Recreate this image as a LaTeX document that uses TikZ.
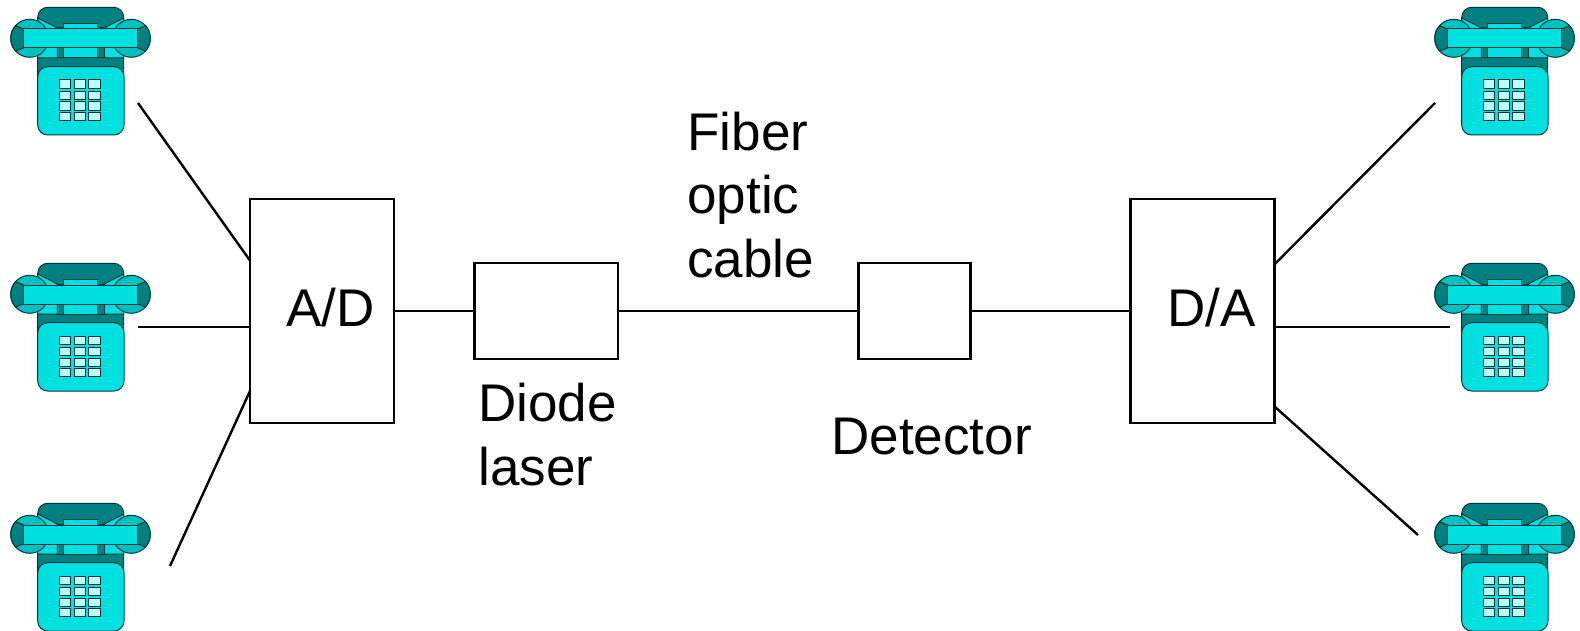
\documentclass[tikz,border=0pt]{standalone}
\usepackage{xcolor}
\usepackage{fontspec}
\setmainfont{Liberation Sans}
\usepackage{tikz}
\definecolor{teldark}{HTML}{008080}
\definecolor{telmid}{HTML}{00C0C0}
\definecolor{telcyan}{HTML}{00E0E0}
\definecolor{telkey}{HTML}{C0FFFF}
\definecolor{telline}{HTML}{003838}

\begin{document}
\begin{tikzpicture}[
  x=0.5pt, y=-0.5pt,
  box/.style={draw, line width=1.2pt, outer sep=0pt, inner sep=0pt},
  wire/.style={line width=1.2pt},
  lbl/.style={anchor=base west, inner sep=0pt, align=left, font=\fontsize{26.5}{31.75}\selectfont},
  tel/.style={draw=telline, line width=0.5pt},
  pics/phone/.style={code={
    % body and cradle
    \filldraw[tel, fill=teldark, rounded corners=5pt] (37.7,85) -- (37.7,7.3) -- (123.7,7.3) -- (123.7,85) -- cycle;
    \filldraw[tel, fill=telcyan] (37.7,18) -- (57.3,28) -- (57.3,58) -- (37.7,58) -- cycle;
    \filldraw[tel, fill=telcyan] (123.7,18) -- (104,28) -- (104,58) -- (123.7,58) -- cycle;
    \filldraw[tel, fill=teldark] (57.3,28) rectangle (63.5,58);
    \filldraw[tel, fill=teldark] (97.7,28) rectangle (104,58);
    \filldraw[tel, fill=telcyan] (63.5,23.3) rectangle (97.7,58);
    % ear pieces
    \filldraw[tel, fill=telmid] (29.7,38.3) circle[radius=19];
    \filldraw[tel, fill=telmid] (131.3,38.3) circle[radius=19];
    \filldraw[tel, fill=teldark] (15.6,25.6) arc[start angle=222, end angle=138, radius=19] -- (23.3,48) -- (23.3,29) -- cycle;
    \filldraw[tel, fill=teldark] (145.4,25.6) arc[start angle=-42, end angle=42, radius=19] -- (137.7,48) -- (137.7,29) -- cycle;
    \filldraw[tel, fill=telcyan] (23.3,29) rectangle (137.7,48);
    % base and keys
    \filldraw[tel, fill=telcyan, rounded corners=5pt] (37.7,66.7) rectangle (124,135);
    \foreach \kx in {59.3,74,88.7} {
      \foreach \ky in {80,91.3,102,112.3} {
        \filldraw[tel, fill=telkey] (\kx,\ky) rectangle ++(11.5,8.6);
      }
    }
  }}
]
\useasboundingbox (0,0) rectangle (1580,631);

\pic at (0,0) {phone};
\pic at (0,256) {phone};
\pic at (0,496) {phone};
\pic at (1424,0) {phone};
\pic at (1424,256) {phone};
\pic at (1424,496) {phone};

\node[box, minimum width=72pt, minimum height=112pt] (ad) at (322,311) {};
\node[box, minimum width=71.7pt, minimum height=48pt] (diode) at (546.3,311) {};
\node[box, minimum width=56pt, minimum height=48pt] (detector) at (914.5,311) {};
\node[box, minimum width=72pt, minimum height=112pt] (da) at (1202.6,311) {};

\node[lbl] (adtext) at (286,326.5) {A/D};
\node[lbl] (datext) at (1167,326.5) {D/A};
\node[lbl] (fibertext) at (687,277) {Fiber\\optic\\cable};
\node[lbl] (diodetext) at (478,485) {Diode\\laser};
\node[lbl] (detectortext) at (831,454) {Detector};

\coordinate (telA) at (138,103);
\coordinate (telB) at (138,327);
\coordinate (telC) at (170,566);
\coordinate (telD) at (1435,103);
\coordinate (telE) at (1450,327);
\coordinate (telF) at (1418,535);

\draw[wire] (telA) -- (ad.145.8);
\draw[wire] (telB) -- (telB -| ad.west);
\draw[wire] (telC) -- (ad.228.7);
\draw[wire] (ad) -- (diode);
\draw[wire] (diode) -- (detector);
\draw[wire] (detector) -- (da);
\draw[wire] (da.33.7) -- (telD);
\draw[wire] (telE -| da.east) -- (telE);
\draw[wire] (da.-53.1) -- (telF);
\end{tikzpicture}
\end{document}
